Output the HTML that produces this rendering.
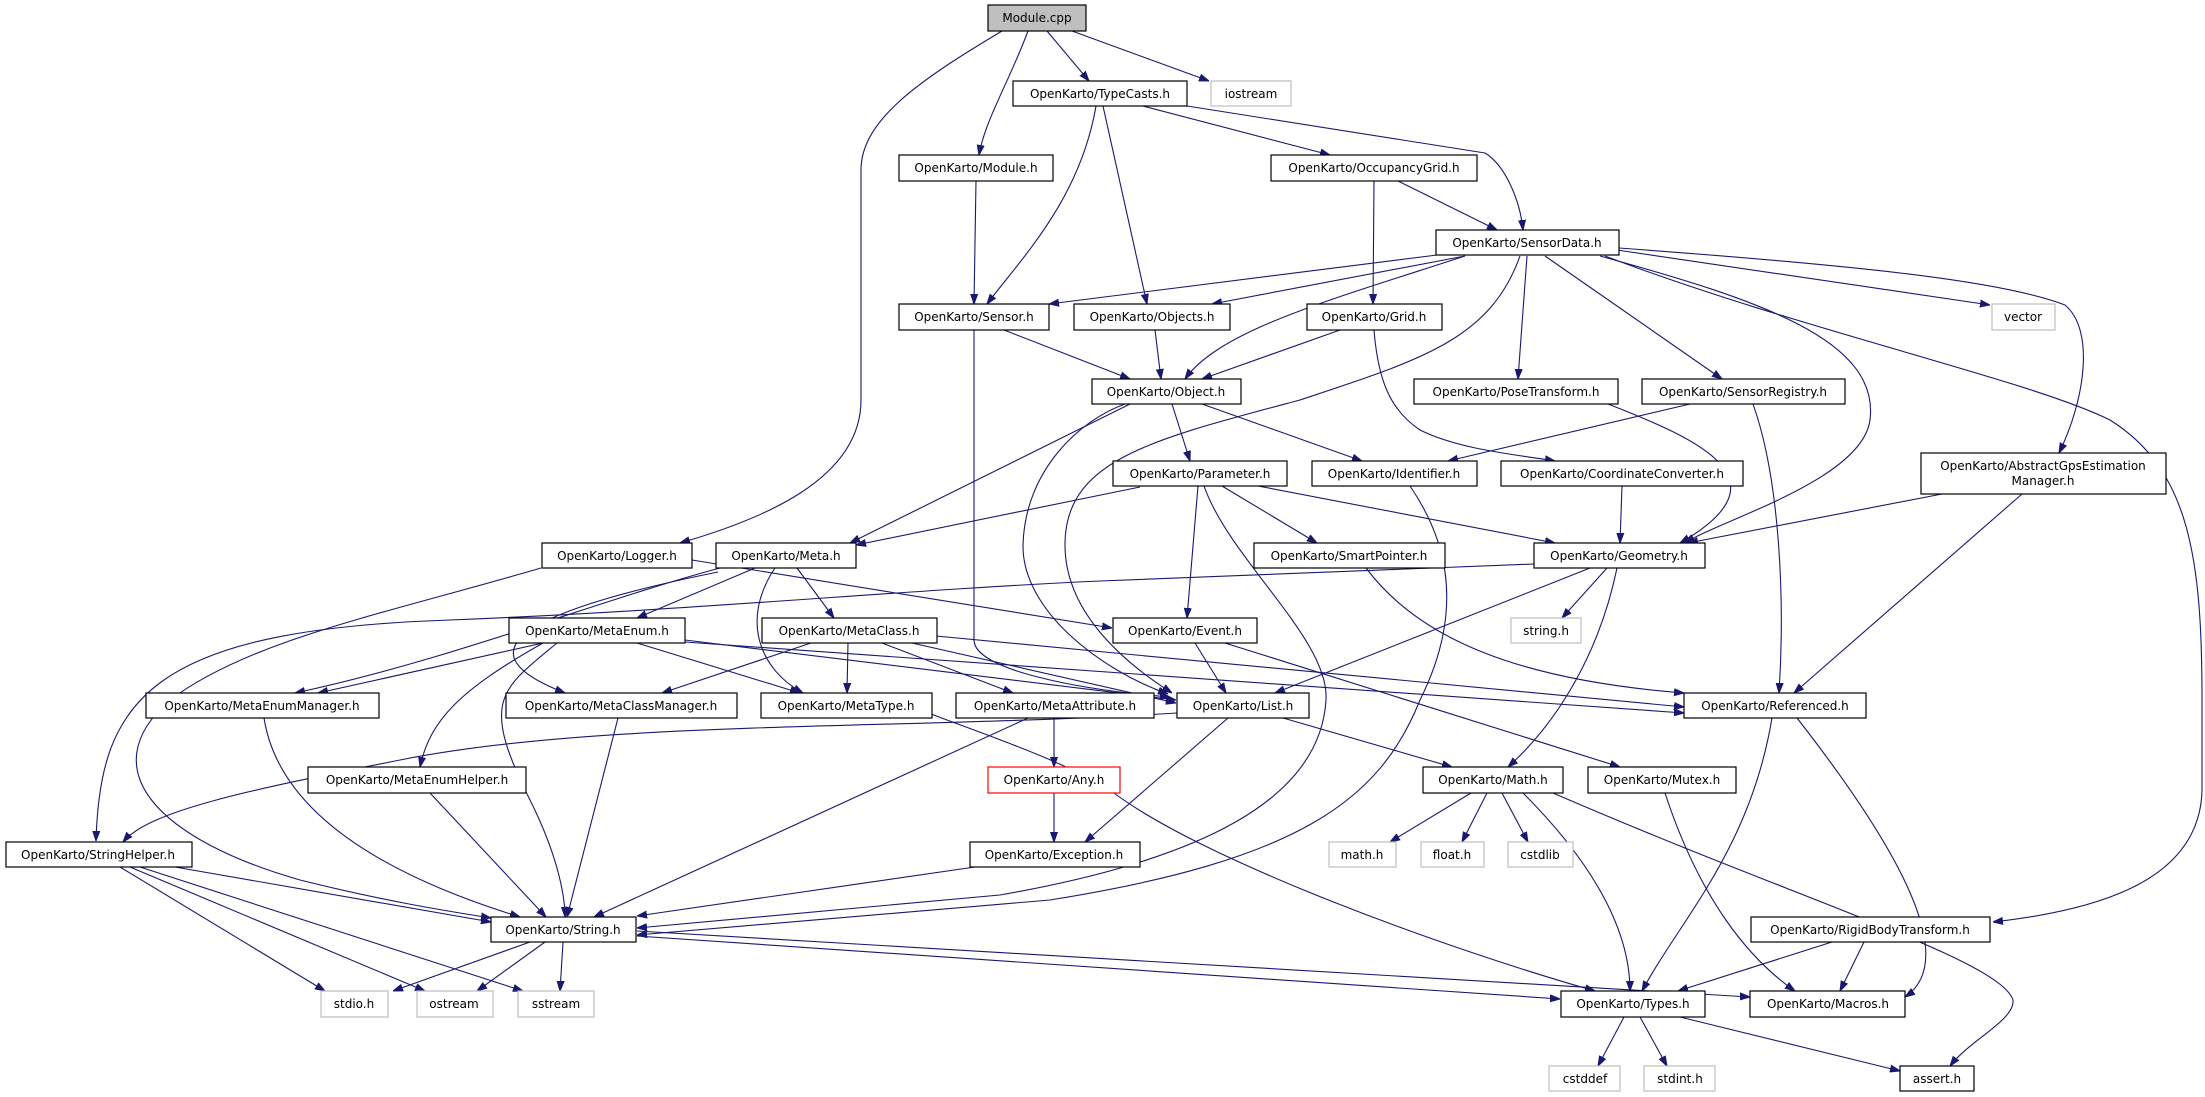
<!DOCTYPE html>
<html><head><meta charset="utf-8"><style>
html,body{margin:0;padding:0;background:#fff;}
svg{display:block;}
text{font-family:"DejaVu Sans","Liberation Sans",sans-serif;font-size:12px;fill:#000;}
.e{fill:none;stroke:#191970;stroke-width:1.1;marker-end:url(#a);}
.n{fill:#fff;stroke:#000;stroke-width:1.2;}
.g{fill:#fff;stroke:#bfbfbf;stroke-width:1.2;}
.r{fill:#fff;stroke:#ff0000;stroke-width:1.2;}
</style></head><body>
<svg width="2205" height="1097" viewBox="0 0 2205 1097" xmlns="http://www.w3.org/2000/svg">
<defs><marker id="a" viewBox="0 0 10 10" refX="10" refY="5" markerWidth="10" markerHeight="10" markerUnits="userSpaceOnUse" orient="auto"><path d="M0,1.5 L10,5 L0,8.5 z" fill="#191970" stroke="#191970"/></marker></defs>
<g>
<path class="e" d="M1002,31 C920,80 861,120 861,170 L861,400 C861,480 760,520 680,543"/>
<path class="e" d="M1028,31 C1010,80 985,120 979,155"/>
<path class="e" d="M1047,31 L1089,81"/>
<path class="e" d="M1072,31 L1209,81"/>
<path class="e" d="M976,181 L974,304"/>
<path class="e" d="M1096,106 C1080,200 1020,260 987,304"/>
<path class="e" d="M1103,106 L1147,304"/>
<path class="e" d="M1143,106 L1330,155"/>
<path class="e" d="M1187,106 L1485,153 C1505,165 1520,200 1523,230"/>
<path class="e" d="M1398,181 L1497,230"/>
<path class="e" d="M1374,181 L1373,304"/>
<path class="e" d="M1437,255 L1049,304"/>
<path class="e" d="M1465,256 L1212,304"/>
<path class="e" d="M1465,256 C1330,300 1220,330 1185,379"/>
<path class="e" d="M1520,256 C1490,340 1420,360 1300,400 C1150,440 1065,460 1065,545 C1065,610 1120,660 1172,693"/>
<path class="e" d="M1527,256 L1518,379"/>
<path class="e" d="M1545,256 L1722,379"/>
<path class="e" d="M1600,256 C1760,300 1880,340 1870,420 C1862,480 1720,520 1685,543"/>
<path class="e" d="M1617,250 L1990,305"/>
<path class="e" d="M1619,248 C1850,265 2000,280 2065,305 C2095,330 2085,400 2059,453"/>
<path class="e" d="M1605,256 C1800,330 2030,380 2110,420 C2190,470 2202,560 2202,700 L2202,790 C2200,880 2100,910 1993,922"/>
<path class="e" d="M1004,330 L1130,379"/>
<path class="e" d="M974,330 L974,640 C974,670 1080,690 1170,697"/>
<path class="e" d="M1155,330 L1161,379"/>
<path class="e" d="M1340,330 L1202,379"/>
<path class="e" d="M1374,330 C1378,380 1390,410 1420,430 C1460,450 1520,455 1555,461"/>
<path class="e" d="M1130,404 L850,543"/>
<path class="e" d="M1125,404 C1080,420 1025,470 1023,545 C1022,610 1100,670 1168,694"/>
<path class="e" d="M1172,404 L1190,461"/>
<path class="e" d="M1202,404 L1362,461"/>
<path class="e" d="M1140,487 L856,545"/>
<path class="e" d="M1198,486 L1187,618"/>
<path class="e" d="M1222,486 L1317,543"/>
<path class="e" d="M1258,486 L1555,543"/>
<path class="e" d="M1204,486 C1230,560 1330,640 1326,700 C1320,800 1200,860 1000,895 L637,928"/>
<path class="e" d="M1410,486 C1440,530 1470,600 1420,700 C1380,800 1300,860 1050,900 L637,935"/>
<path class="e" d="M692,560 L1112,628"/>
<path class="e" d="M541,568 C380,615 250,640 170,700 C90,770 160,840 300,880 C380,900 440,910 491,918"/>
<path class="e" d="M720,568 C600,600 450,660 295,693"/>
<path class="e" d="M718,572 C480,620 480,660 565,693"/>
<path class="e" d="M755,568 L637,618"/>
<path class="e" d="M797,568 L834,618"/>
<path class="e" d="M775,568 C740,620 760,670 803,693"/>
<path class="e" d="M1534,564 L1100,581 C900,590 700,610 450,620 C150,630 100,700 96,841"/>
<path class="e" d="M1177,713 C900,730 600,720 400,760 C250,790 150,810 123,842"/>
<path class="e" d="M543,643 L318,693"/>
<path class="e" d="M543,643 C460,690 430,720 420,767"/>
<path class="e" d="M557,643 C500,690 480,700 530,800 C560,860 565,900 565,917"/>
<path class="e" d="M637,643 L800,693"/>
<path class="e" d="M685,640 L1176,700"/>
<path class="e" d="M685,642 L1684,713"/>
<path class="e" d="M811,643 L662,693"/>
<path class="e" d="M848,643 L847,693"/>
<path class="e" d="M882,643 L1013,693"/>
<path class="e" d="M912,643 L1176,703"/>
<path class="e" d="M936,636 L1684,707"/>
<path class="e" d="M264,718 C280,820 400,880 520,917"/>
<path class="e" d="M618,718 L567,917"/>
<path class="e" d="M931,714 C1000,740 1060,760 1110,790 C1200,860 1450,950 1595,991"/>
<path class="e" d="M1054,718 L1054,767"/>
<path class="e" d="M1028,718 L594,917"/>
<path class="e" d="M430,793 L546,917"/>
<path class="e" d="M1054,793 L1054,842"/>
<path class="e" d="M975,867 L637,916"/>
<path class="e" d="M1228,718 L1085,842"/>
<path class="e" d="M1283,718 L1452,767"/>
<path class="e" d="M530,942 L393,991"/>
<path class="e" d="M545,942 L477,991"/>
<path class="e" d="M563,942 L560,991"/>
<path class="e" d="M637,936 L1560,999"/>
<path class="e" d="M637,931 L1750,997"/>
<path class="e" d="M175,867 L491,922"/>
<path class="e" d="M120,867 L325,991"/>
<path class="e" d="M130,867 L425,991"/>
<path class="e" d="M140,867 L523,991"/>
<path class="e" d="M1607,568 L1562,618"/>
<path class="e" d="M1590,568 L1275,693"/>
<path class="e" d="M1617,568 C1600,650 1560,720 1508,767"/>
<path class="e" d="M1195,643 L1226,693"/>
<path class="e" d="M1225,643 L1620,767"/>
<path class="e" d="M1366,568 C1420,640 1520,680 1684,693"/>
<path class="e" d="M1622,486 L1620,543"/>
<path class="e" d="M1690,404 L1448,461"/>
<path class="e" d="M1753,404 C1780,480 1785,600 1779,693"/>
<path class="e" d="M1608,404 C1700,440 1790,480 1680,543"/>
<path class="e" d="M1942,494 L1688,543"/>
<path class="e" d="M2022,494 L1794,693"/>
<path class="e" d="M1772,718 C1750,850 1680,920 1642,991"/>
<path class="e" d="M1797,718 C1900,850 1960,960 1905,997"/>
<path class="e" d="M1471,793 L1390,842"/>
<path class="e" d="M1487,793 L1462,842"/>
<path class="e" d="M1502,793 L1528,842"/>
<path class="e" d="M1523,793 C1580,850 1630,920 1630,991"/>
<path class="e" d="M1553,793 C1800,900 2000,960 2013,1000 C2015,1020 1970,1040 1950,1066"/>
<path class="e" d="M1665,793 C1700,900 1750,960 1795,991"/>
<path class="e" d="M1832,942 L1678,991"/>
<path class="e" d="M1864,942 L1840,991"/>
<path class="e" d="M1624,1017 L1598,1066"/>
<path class="e" d="M1640,1017 L1667,1066"/>
<path class="e" d="M1680,1017 L1900,1071"/>
</g>
<g>
<rect x="988" y="5" width="98" height="26" fill="#bfbfbf" stroke="#000" stroke-width="1.2"/><text x="1037" y="22" text-anchor="middle">Module.cpp</text>
<rect class="n" x="1013" y="81" width="174" height="25"/><text x="1100" y="98" text-anchor="middle">OpenKarto/TypeCasts.h</text>
<rect class="g" x="1211" y="81" width="80" height="25"/><text x="1251" y="98" text-anchor="middle">iostream</text>
<rect class="n" x="899" y="155" width="154" height="26"/><text x="976" y="172" text-anchor="middle">OpenKarto/Module.h</text>
<rect class="n" x="1271" y="155" width="206" height="26"/><text x="1374" y="172" text-anchor="middle">OpenKarto/OccupancyGrid.h</text>
<rect class="n" x="1436" y="230" width="183" height="25"/><text x="1527" y="247" text-anchor="middle">OpenKarto/SensorData.h</text>
<rect class="n" x="899" y="304" width="150" height="26"/><text x="974" y="321" text-anchor="middle">OpenKarto/Sensor.h</text>
<rect class="n" x="1074" y="304" width="156" height="26"/><text x="1152" y="321" text-anchor="middle">OpenKarto/Objects.h</text>
<rect class="n" x="1307" y="304" width="135" height="26"/><text x="1374" y="321" text-anchor="middle">OpenKarto/Grid.h</text>
<rect class="g" x="1992" y="304" width="63" height="26"/><text x="2023" y="321" text-anchor="middle">vector</text>
<rect class="n" x="1092" y="379" width="149" height="25"/><text x="1166" y="396" text-anchor="middle">OpenKarto/Object.h</text>
<rect class="n" x="1414" y="379" width="204" height="25"/><text x="1516" y="396" text-anchor="middle">OpenKarto/PoseTransform.h</text>
<rect class="n" x="1642" y="379" width="203" height="25"/><text x="1743" y="396" text-anchor="middle">OpenKarto/SensorRegistry.h</text>
<rect class="n" x="1113" y="461" width="174" height="25"/><text x="1200" y="478" text-anchor="middle">OpenKarto/Parameter.h</text>
<rect class="n" x="1312" y="461" width="165" height="25"/><text x="1394" y="478" text-anchor="middle">OpenKarto/Identifier.h</text>
<rect class="n" x="1501" y="461" width="242" height="25"/><text x="1622" y="478" text-anchor="middle">OpenKarto/CoordinateConverter.h</text>
<rect class="n" x="1921" y="453" width="245" height="41"/><text x="2043" y="470" text-anchor="middle">OpenKarto/AbstractGpsEstimation</text><text x="2043" y="485" text-anchor="middle">Manager.h</text>
<rect class="n" x="542" y="543" width="150" height="25"/><text x="617" y="560" text-anchor="middle">OpenKarto/Logger.h</text>
<rect class="n" x="716" y="543" width="140" height="25"/><text x="786" y="560" text-anchor="middle">OpenKarto/Meta.h</text>
<rect class="n" x="1254" y="543" width="191" height="25"/><text x="1349" y="560" text-anchor="middle">OpenKarto/SmartPointer.h</text>
<rect class="n" x="1534" y="543" width="171" height="25"/><text x="1619" y="560" text-anchor="middle">OpenKarto/Geometry.h</text>
<rect class="n" x="509" y="618" width="176" height="25"/><text x="597" y="635" text-anchor="middle">OpenKarto/MetaEnum.h</text>
<rect class="n" x="762" y="618" width="175" height="25"/><text x="849" y="635" text-anchor="middle">OpenKarto/MetaClass.h</text>
<rect class="n" x="1113" y="618" width="144" height="25"/><text x="1185" y="635" text-anchor="middle">OpenKarto/Event.h</text>
<rect class="g" x="1511" y="618" width="70" height="25"/><text x="1546" y="635" text-anchor="middle">string.h</text>
<rect class="n" x="146" y="693" width="233" height="25"/><text x="262" y="710" text-anchor="middle">OpenKarto/MetaEnumManager.h</text>
<rect class="n" x="506" y="693" width="231" height="25"/><text x="621" y="710" text-anchor="middle">OpenKarto/MetaClassManager.h</text>
<rect class="n" x="761" y="693" width="171" height="25"/><text x="846" y="710" text-anchor="middle">OpenKarto/MetaType.h</text>
<rect class="n" x="956" y="693" width="198" height="25"/><text x="1055" y="710" text-anchor="middle">OpenKarto/MetaAttribute.h</text>
<rect class="n" x="1177" y="693" width="132" height="25"/><text x="1243" y="710" text-anchor="middle">OpenKarto/List.h</text>
<rect class="n" x="1684" y="693" width="182" height="25"/><text x="1775" y="710" text-anchor="middle">OpenKarto/Referenced.h</text>
<rect class="n" x="308" y="767" width="218" height="26"/><text x="417" y="784" text-anchor="middle">OpenKarto/MetaEnumHelper.h</text>
<rect class="r" x="988" y="767" width="132" height="26"/><text x="1054" y="784" text-anchor="middle" style="fill:#000">OpenKarto/Any.h</text>
<rect class="n" x="1423" y="767" width="140" height="26"/><text x="1493" y="784" text-anchor="middle">OpenKarto/Math.h</text>
<rect class="n" x="1588" y="767" width="148" height="26"/><text x="1662" y="784" text-anchor="middle">OpenKarto/Mutex.h</text>
<rect class="n" x="6" y="842" width="186" height="25"/><text x="98" y="859" text-anchor="middle">OpenKarto/StringHelper.h</text>
<rect class="n" x="970" y="842" width="170" height="25"/><text x="1054" y="859" text-anchor="middle">OpenKarto/Exception.h</text>
<rect class="g" x="1329" y="842" width="67" height="25"/><text x="1362" y="859" text-anchor="middle">math.h</text>
<rect class="g" x="1421" y="842" width="63" height="25"/><text x="1452" y="859" text-anchor="middle">float.h</text>
<rect class="g" x="1508" y="842" width="65" height="25"/><text x="1540" y="859" text-anchor="middle">cstdlib</text>
<rect class="n" x="491" y="917" width="145" height="25"/><text x="563" y="934" text-anchor="middle">OpenKarto/String.h</text>
<rect class="n" x="1751" y="917" width="239" height="25"/><text x="1870" y="934" text-anchor="middle">OpenKarto/RigidBodyTransform.h</text>
<rect class="g" x="321" y="991" width="67" height="26"/><text x="354" y="1008" text-anchor="middle">stdio.h</text>
<rect class="g" x="417" y="991" width="76" height="26"/><text x="454" y="1008" text-anchor="middle">ostream</text>
<rect class="g" x="518" y="991" width="76" height="26"/><text x="556" y="1008" text-anchor="middle">sstream</text>
<rect class="n" x="1561" y="991" width="144" height="26"/><text x="1633" y="1008" text-anchor="middle">OpenKarto/Types.h</text>
<rect class="n" x="1750" y="991" width="155" height="26"/><text x="1828" y="1008" text-anchor="middle">OpenKarto/Macros.h</text>
<rect class="g" x="1549" y="1066" width="71" height="25"/><text x="1585" y="1083" text-anchor="middle">cstddef</text>
<rect class="g" x="1644" y="1066" width="71" height="25"/><text x="1680" y="1083" text-anchor="middle">stdint.h</text>
<rect class="n" x="1900" y="1066" width="74" height="25"/><text x="1937" y="1083" text-anchor="middle">assert.h</text>
</g>
</svg>
</body></html>
